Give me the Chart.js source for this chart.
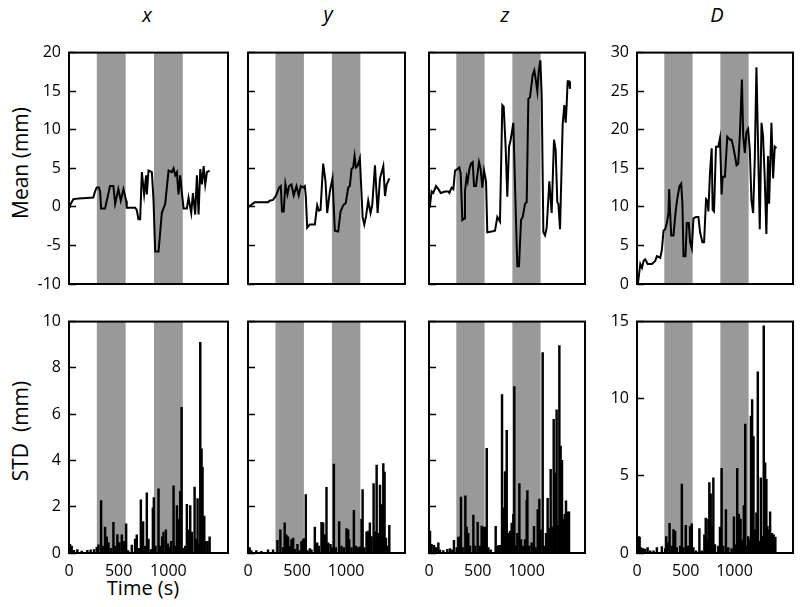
<!DOCTYPE html>
<html>
<head>
    <meta charset="utf-8">
    <title>Mean and STD over time</title>
    <script src="https://cdn.jsdelivr.net/npm/chart.js"></script>
    <style>
        body { margin: 0; background: #fff; font-family: "Open Sans", sans-serif; }
        #wrap { position: relative; width: 800px; height: 607px; overflow: hidden; }
        #wrap canvas { position: absolute; }
        .lbl { position: absolute; color: #000; white-space: pre; line-height: 1; }
        .ttl { font-size: 20px; font-style: italic; transform: translate(-50%, -50%); }
        .ylab { font-size: 21px; transform: translate(-50%, -50%) rotate(-90deg); }
        .xlab { font-size: 20px; transform: translate(-50%, -50%); }
    </style>
</head>
<body>
    <div id="wrap">
        <div class="lbl ttl" style="left:147px;top:15px">x</div>
        <div class="lbl ttl" style="left:328px;top:14px">y</div>
        <div class="lbl ttl" style="left:505px;top:15px">z</div>
        <div class="lbl ttl" style="left:717px;top:15px">D</div>
        <div class="lbl ylab" style="left:20px;top:163px">Mean (mm)</div>
        <div class="lbl ylab" style="left:20px;top:431px">STD  (mm)</div>
        <div class="lbl xlab" style="left:143px;top:588px">Time (s)</div>
    </div>
    <script>
        // stimulus periods (s)
        const bandStart = [280, 855];
        const bandEnd = [570, 1145];
        const xTicks = [0, 500, 1000];

        // mean position, time (s) / value (mm)
        const meanXTime = [0,10,44,100,245,262,279,300,313,323,363,413,447,464,497,521,548,575,581,665,682,699,716,733,756,776,783,800,834,850,867,901,934,968,1002,1035,1052,1069,1086,1102,1119,1136,1153,1186,1203,1230,1247,1270,1287,1304,1321,1338,1355,1371,1388,1415];
        const meanX = [0,0.2,1.0,1.1,1.2,2.0,2.5,2.5,2.0,-0.2,-0.2,2.7,2.7,0.4,2.3,0.8,2.3,0.8,-0.1,-0.1,-0.4,-1.6,-1.6,4.5,1.6,4.1,1.6,4.7,4.5,1.0,-5.8,-5.8,-0.8,0.4,4.7,4.5,5.0,4.1,4.5,1.6,4.1,1.8,-0.2,-0.2,1.2,-0.8,1.8,-1.0,4.1,-1.0,4.9,2.9,5.3,2.9,4.5,4.7];

        const meanYTime = [0,17,68,204,221,255,283,317,334,347,364,381,402,419,443,466,494,517,538,562,579,589,603,630,681,705,722,739,766,790,807,834,861,885,919,943,970,997,1021,1038,1055,1072,1086,1100,1117,1140,1168,1185,1202,1225,1249,1266,1294,1321,1345,1379,1396,1413,1440];
        const meanY = [0,0.1,0.6,0.6,0.8,0.9,1.4,2.5,2.7,-0.6,-0.6,3.0,1.6,2.7,2.9,1.5,2.7,1.5,2.7,2.5,2.7,1.4,-2.7,-2.3,-2.3,0.2,-0.5,-0.4,5.6,3.3,-0.8,2.0,3.7,-3.1,-3.2,-0.6,0.2,0.5,2.5,2.7,4.9,5.1,6.6,5.1,5.3,6.3,-1.3,-2.3,-1.3,0.8,-0.8,0.2,5.4,-0.8,3.7,5.3,1.4,2.9,3.7];

        const meanZTime = [0,10,27,44,72,96,120,164,198,209,232,250,267,291,311,325,342,359,369,386,397,414,431,448,462,482,513,530,547,564,585,598,643,677,701,728,752,766,786,803,821,838,865,892,906,923,944,961,985,1002,1019,1036,1063,1080,1097,1111,1125,1142,1156,1173,1190,1207,1234,1258,1282,1299,1316,1327,1344,1371,1388,1402,1412,1422,1436,1446];
        const meanZ = [0,0.2,2.0,1.8,2.7,2.3,1.8,2.0,2.0,1.8,2.5,2.3,4.7,4.9,5.1,4.3,-1.7,-1.5,2.0,3.9,3.3,4.9,5.6,5.8,2.7,2.7,5.8,4.9,2.5,4.7,3.3,-3.3,-3.2,-3.1,-1.3,-1.9,13.2,13.0,7.8,1.3,7.8,8.7,10.9,-1.7,-7.7,-7.7,-1.7,-1.3,0.4,0.6,14.0,14.2,17.1,17.7,16.3,15.0,17.5,19.0,14.4,-3.3,-3.7,-2.7,3.3,-0.8,8.7,7.4,0.6,0.4,-2.9,10.7,13.2,10.9,13.2,16.3,16.3,15.3];

        const meanDTime = [0,10,34,51,68,85,109,153,187,204,238,255,272,289,306,323,330,340,351,374,398,415,436,453,466,477,497,511,531,545,562,579,606,630,647,671,688,708,722,732,749,766,776,790,810,834,851,868,878,902,926,953,970,987,1008,1021,1038,1055,1076,1089,1106,1123,1140,1157,1174,1191,1208,1225,1242,1259,1277,1293,1310,1327,1344,1355,1379,1396,1413,1430];
        const meanD = [0,0.1,2.6,2.1,3.0,3.2,2.6,2.6,3.0,3.6,3.4,4.4,6.9,7.1,7.9,9.2,12.3,9.2,6.3,6.3,9.6,11.2,12.7,13.0,10.4,3.6,3.6,7.9,7.9,5.4,4.6,8.5,8.7,8.7,6.7,5.4,5.4,11.0,10.8,9.4,14.5,17.6,9.6,9.4,17.8,17.8,18.9,11.6,13.9,13.9,19.1,18.7,18.7,17.8,16.4,15.4,15.6,19.3,26.5,19.3,17.0,19.7,20.1,17.4,10.8,9.2,16.2,28.1,17.8,7.1,20.9,19.1,13.7,6.5,16.6,10.4,20.9,13.7,17.8,17.6];

        // standard deviation, time (s) / value (mm)
        const stdXTime = [10,27,50,84,128,185,218,252,279,296,323,339,363,380,397,420,447,467,487,508,531,551,575,595,632,665,682,702,723,736,746,763,783,800,823,844,854,871,901,918,938,951,975,995,1012,1028,1052,1072,1086,1102,1119,1133,1149,1170,1186,1203,1220,1237,1264,1280,1294,1311,1321,1334,1344,1361,1375,1395,1415];
        const stdX = [0.37,0.3,0.12,0.15,0.08,0.12,0.14,0.15,0.25,0.35,2.26,0.3,1.12,0.7,0.45,0.2,1.33,0.3,0.8,0.45,0.78,0.5,1.26,0.1,0.34,0.6,0.78,0.2,2.3,0.5,1.36,0.3,2.6,0.6,0.15,1.95,2.4,0.3,2.77,0.3,0.7,0.9,1.0,0.4,0.25,0.5,2.9,0.3,2.05,1.45,2.66,6.3,0.2,0.3,2.1,1.0,2.05,0.9,2.85,0.6,2.35,0.4,9.1,4.5,3.7,1.6,0.5,0.5,0.7];

        const stdYTime = [17,34,85,136,204,255,300,330,357,374,391,408,425,443,460,477,504,528,545,562,572,589,606,630,647,681,705,722,749,766,783,800,817,841,854,875,895,929,953,977,1004,1021,1031,1055,1079,1100,1123,1140,1157,1168,1185,1208,1225,1242,1259,1280,1294,1311,1328,1345,1355,1368,1379,1392,1406,1419,1440];
        const stdY = [0.23,0.1,0.1,0.07,0.14,0.14,0.55,1.0,0.23,1.3,0.78,0.7,0.3,0.58,0.65,0.16,0.37,0.1,0.5,0.58,0.62,2.52,0.1,0.19,0.14,1.12,0.44,0.3,1.33,1.3,0.78,2.84,0.44,0.37,0.23,3.84,0.23,1.36,0.3,0.23,1.05,1.0,0.58,0.23,1.84,0.3,0.23,0.27,1.47,2.74,0.23,0.92,0.95,1.3,0.71,3.0,0.92,3.8,0.85,2.93,2.08,2.08,3.86,3.5,0.65,0.3,1.2];

        const stdZTime = [10,27,51,72,96,113,147,188,215,239,256,284,301,311,328,345,373,386,403,421,455,475,499,523,540,557,574,592,609,633,684,701,718,735,749,762,780,797,814,831,848,865,875,892,906,927,944,961,985,1002,1009,1029,1053,1077,1094,1115,1132,1145,1166,1183,1200,1217,1234,1248,1265,1279,1295,1309,1327,1337,1350,1364,1378,1392,1405,1419,1436];
        const stdZ = [0.95,0.37,0.33,0.23,0.44,0.14,0.1,0.16,0.19,0.14,0.55,0.23,0.68,0.7,2.42,0.23,2.47,1.12,0.85,0.3,1.64,0.3,1.33,0.3,1.16,1.12,1.12,4.52,0.23,0.14,1.15,0.3,0.33,0.33,6.85,1.95,3.52,5.3,0.85,0.95,1.29,1.67,7.19,0.3,0.85,3.0,0.58,0.3,0.58,2.29,2.7,0.3,0.44,1.15,0.23,1.88,2.33,1.0,8.66,0.3,0.85,2.36,1.08,3.62,1.12,5.78,3.45,6.19,1.2,8.96,4.62,4.0,1.47,1.67,2.25,1.78,1.78];

        const stdDTime = [17,27,41,61,85,109,136,170,204,255,289,300,313,334,357,374,391,408,443,460,477,500,521,545,562,579,606,640,664,691,705,722,732,742,756,770,783,800,834,851,868,885,912,936,970,994,1011,1028,1045,1062,1079,1096,1110,1123,1140,1157,1168,1181,1195,1208,1225,1239,1253,1270,1287,1300,1314,1327,1338,1351,1365,1385,1402,1419];
        const stdD = [1.07,1.03,0.35,0.29,0.25,0.35,0.14,0.14,0.35,0.41,0.29,1.07,0.66,1.93,0.45,1.52,1.42,0.35,0.45,4.46,0.35,1.79,0.45,1.73,1.89,0.35,0.14,1.58,0.14,1.17,2.26,0.86,2.2,4.56,3.84,1.73,4.87,0.55,0.45,1.68,5.49,0.45,2.81,0.35,0.29,2.34,0.55,5.49,2.5,2.2,0.86,3.08,8.36,0.45,1.07,0.86,8.88,9.94,7.54,1.48,2.61,11.75,0.76,4.87,1.07,14.73,5.84,4.77,1.73,1.48,2.67,1.27,1.17,1.03];

        // layout of the plot areas
        const colLeft = [69, 248, 429, 637];
        const colWidth = [159, 157, 156, 156];
        const rowTop = [42, 311];
        const plotHeight = 242;
        const margin = { l: 60, t: 14, r: 8, b: 32 };
        const fontFamily = '"Open Sans", sans-serif';

        const bandsAndFrame = {
            id: 'bandsAndFrame',
            beforeDatasetsDraw(chart) {
                const { ctx, chartArea: a, scales: { x } } = chart;
                ctx.save();
                ctx.fillStyle = '#999999';
                bandStart.forEach((s, i) => {
                    const x1 = x.getPixelForValue(s);
                    const x2 = x.getPixelForValue(bandEnd[i]);
                    ctx.fillRect(x1, a.top, x2 - x1, a.bottom - a.top);
                });
                ctx.restore();
            },
            afterDatasetsDraw(chart) {
                const { ctx, chartArea: a } = chart;
                ctx.save();
                ctx.strokeStyle = '#000';
                ctx.lineWidth = 2;
                ctx.strokeRect(a.left, a.top, a.right - a.left, a.bottom - a.top);
                ctx.restore();
            }
        };

        const createPanel = (row, col, times, values, yMin, yMax, yStep) => {
            const canvas = document.createElement('canvas');
            const w = colWidth[col] + margin.l + margin.r;
            const h = plotHeight + margin.t + margin.b;
            canvas.width = w;
            canvas.height = h;
            canvas.style.width = w + 'px';
            canvas.style.height = h + 'px';
            canvas.style.left = (colLeft[col] - margin.l) + 'px';
            canvas.style.top = (rowTop[row] - margin.t) + 'px';
            document.getElementById('wrap').appendChild(canvas);

            const isLine = row === 0;
            const showYLabels = col === 0 || col === 3;

            return new Chart(canvas.getContext('2d'), {
                type: isLine ? 'line' : 'bar',
                data: {
                    datasets: [{
                        data: times.map((t, i) => ({ x: t, y: values[i] })),
                        borderColor: '#000',
                        backgroundColor: '#000',
                        borderWidth: isLine ? 2 : 0,
                        pointRadius: 0,
                        tension: 0,
                        barThickness: 1.8
                    }]
                },
                options: {
                    responsive: false,
                    animation: false,
                    layout: { padding: { top: margin.t, right: margin.r, left: 0, bottom: 0 } },
                    plugins: { legend: { display: false }, tooltip: { enabled: false } },
                    scales: {
                        x: {
                            type: 'linear',
                            min: 0,
                            max: 1600,
                            offset: false,
                            afterBuildTicks: scale => { scale.ticks = xTicks.map(value => ({ value })); },
                            afterFit: scale => { scale.height = margin.b; },
                            grid: { display: false, offset: false },
                            border: { display: false },
                            ticks: {
                                display: !isLine,
                                color: '#000',
                                font: { family: fontFamily, size: 16 },
                                padding: 1,
                                maxRotation: 0,
                                callback: value => String(value)
                            }
                        },
                        y: {
                            min: yMin,
                            max: yMax,
                            afterFit: scale => { scale.width = margin.l; },
                            grid: {
                                drawOnChartArea: false,
                                drawTicks: true,
                                tickLength: -7,
                                tickWidth: 1.5,
                                color: '#000'
                            },
                            border: { display: false },
                            ticks: {
                                stepSize: yStep,
                                color: showYLabels ? '#000' : 'rgba(0,0,0,0)',
                                font: { family: fontFamily, size: 16 },
                                padding: 15
                            }
                        }
                    }
                },
                plugins: [bandsAndFrame]
            });
        };

        createPanel(0, 0, meanXTime, meanX, -10, 20, 5);
        createPanel(0, 1, meanYTime, meanY, -10, 20, 5);
        createPanel(0, 2, meanZTime, meanZ, -10, 20, 5);
        createPanel(0, 3, meanDTime, meanD, 0, 30, 5);

        createPanel(1, 0, stdXTime, stdX, 0, 10, 2);
        createPanel(1, 1, stdYTime, stdY, 0, 10, 2);
        createPanel(1, 2, stdZTime, stdZ, 0, 10, 2);
        createPanel(1, 3, stdDTime, stdD, 0, 15, 5);
    </script>
</body>
</html>
